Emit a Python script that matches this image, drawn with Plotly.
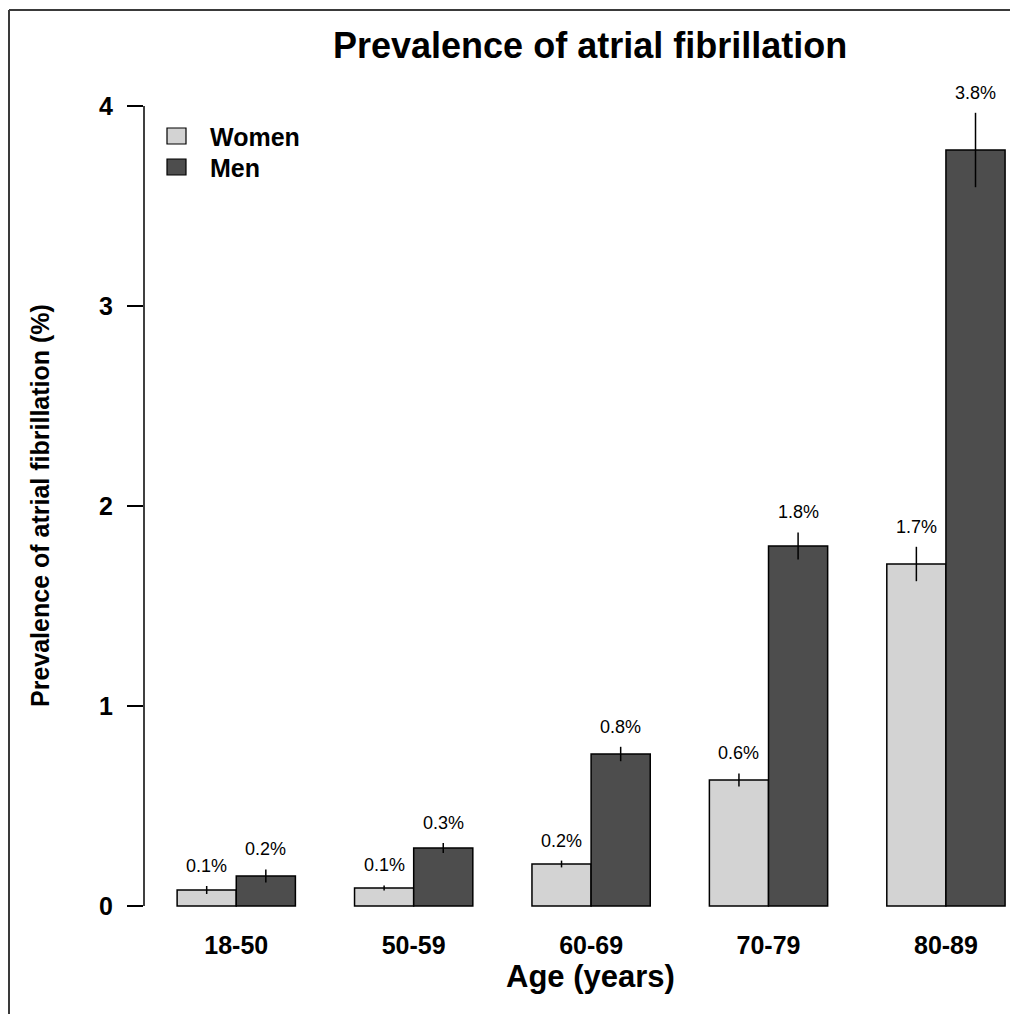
import plotly.graph_objects as go

# ---- data ----
age_groups = ["18-50", "50-59", "60-69", "70-79", "80-89"]
women = [0.08, 0.09, 0.21, 0.63, 1.71]
women_err = [0.020, 0.013, 0.017, 0.033, 0.086]
men = [0.15, 0.29, 0.76, 1.80, 3.78]
men_err = [0.033, 0.025, 0.036, 0.068, 0.186]
women_labels = ["0.1%", "0.1%", "0.2%", "0.6%", "1.7%"]
men_labels = ["0.2%", "0.3%", "0.8%", "1.8%", "3.8%"]
y_ticks = [0, 1, 2, 3, 4]
series_names = ["Women", "Men"]

# ---- style ----
FONT = "Liberation Sans, Arial, Helvetica, sans-serif"
W, H = 1010, 1014
ML, MR, MT, MB = 144, 0, 60, 88
PW, PH = W - ML - MR, H - MT - MB
C_WOMEN = "#D3D3D3"
C_MEN = "#4D4D4D"

# R barplot(beside=TRUE) positions: each group = 2 bars + 1 gap unit
xw = [3 * i + 1.5 for i in range(len(age_groups))]
xm = [3 * i + 2.5 for i in range(len(age_groups))]
xc = [3 * i + 2.0 for i in range(len(age_groups))]

fig = go.Figure()
for name, xs, ys, es, col in [
    (series_names[0], xw, women, women_err, C_WOMEN),
    (series_names[1], xm, men, men_err, C_MEN),
]:
    fig.add_trace(go.Bar(
        x=xs, y=ys, width=1.0, name=name,
        marker=dict(color=col, line=dict(color="black", width=1.5)),
        error_y=dict(type="data", array=es, symmetric=True, width=0,
                     thickness=1.5, color="black"),
        showlegend=False,
    ))

# value labels above the error bars
for xs, ys, es, labs in [(xw, women, women_err, women_labels),
                         (xm, men, men_err, men_labels)]:
    for x, y, e, t in zip(xs, ys, es, labs):
        fig.add_annotation(x=x, y=y + e, text=t, showarrow=False,
                           yanchor="middle", yshift=20,
                           font=dict(family=FONT, size=18, color="black"))

def px_x(p):
    return (p - ML) / PW

def px_y(p):
    return (H - MB - p) / PH

# legend (R style)
for i, (name, col) in enumerate(zip(series_names, [C_WOMEN, C_MEN])):
    top = 128 + i * 31
    fig.add_shape(type="rect", xref="paper", yref="paper",
                  x0=px_x(167), x1=px_x(186), y0=px_y(top + 16), y1=px_y(top),
                  fillcolor=col, line=dict(color="black", width=1.2))
    fig.add_annotation(xref="paper", yref="paper", x=px_x(208), y=px_y(top + 9),
                       text=f"<b>{name}</b>", showarrow=False,
                       xanchor="left", yanchor="middle",
                       font=dict(family=FONT, size=25, color="black"))

# y axis line spanning the tick range only
fig.add_shape(type="line", xref="paper", yref="y", x0=0, x1=0,
              y0=y_ticks[0], y1=y_ticks[-1], line=dict(color="black", width=1.5))

# figure border (only top and left edges visible in the crop)
fig.add_shape(type="line", xref="paper", yref="paper",
              x0=px_x(9), x1=px_x(1060), y0=px_y(10), y1=px_y(10),
              line=dict(color="#3a3a3a", width=2), layer="below")
fig.add_shape(type="line", xref="paper", yref="paper",
              x0=px_x(9), x1=px_x(9), y0=px_y(10), y1=px_y(1060),
              line=dict(color="#3a3a3a", width=2), layer="below")

# title and axis titles
fig.add_annotation(xref="paper", yref="paper", x=px_x(590), y=px_y(46),
                   text="<b>Prevalence of atrial fibrillation</b>", showarrow=False,
                   xanchor="center", yanchor="middle",
                   font=dict(family=FONT, size=36, color="black"))
fig.add_annotation(xref="paper", yref="paper", x=px_x(590), y=px_y(977),
                   text="<b>Age (years)</b>", showarrow=False,
                   xanchor="center", yanchor="middle",
                   font=dict(family=FONT, size=31, color="black"))
fig.add_annotation(xref="paper", yref="paper", x=px_x(40), y=px_y(506),
                   text="<b>Prevalence of atrial fibrillation (%)</b>", showarrow=False,
                   textangle=-90, xanchor="center", yanchor="middle",
                   font=dict(family=FONT, size=25, color="black"))

fig.update_layout(
    width=W, height=H,
    margin=dict(l=ML, r=MR, t=MT, b=MB, pad=0),
    paper_bgcolor="white", plot_bgcolor="white",
    barmode="overlay",
    font=dict(family=FONT, color="black"),
    xaxis=dict(range=[0.44, 0.44 + PW / 59.14], tickmode="array",
               tickvals=xc, ticktext=age_groups, ticks="", showline=False,
               showgrid=False, zeroline=False, ticklabelstandoff=2,
               tickfont=dict(family=FONT, size=25, color="black", weight="bold")),
    yaxis=dict(range=[-0.1, -0.1 + PH / 200.0], tickmode="array",
               tickvals=y_ticks, ticktext=[str(t) for t in y_ticks],
               ticks="outside", ticklen=16, tickwidth=1.5, tickcolor="black",
               showline=False, showgrid=False, zeroline=False,
               ticklabelstandoff=9,
               tickfont=dict(family=FONT, size=25, color="black", weight="bold")),
)

fig.write_html(
    "out.html",
    config={"displayModeBar": False},
    post_script=(
        "document.documentElement.style.overflow='hidden';"
        "document.body.style.margin='0';document.body.style.padding='0';"
        "document.body.style.overflow='hidden';"
    ),
)
